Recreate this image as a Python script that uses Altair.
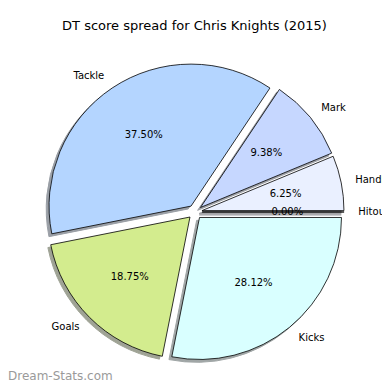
import math
import altair as alt
import pandas as pd

categories = ["Hitouts", "Handball", "Mark", "Tackle", "Goals", "Kicks"]
shares = [0.0, 6.25, 9.375, 37.5, 18.75, 28.125]
pct_labels = ["0.00%", "6.25%", "9.38%", "37.50%", "18.75%", "28.12%"]
colors = ["#dde6ff", "#eaf0ff", "#c6d7ff", "#b4d5ff", "#d3ec8e", "#d9ffff"]
title_text = "DT score spread for Chris Knights (2015)"
watermark = "Dream-Stats.com"

EXPLODE = 0.05
SHADOW = 0.02
R_PX = 142
W = 374
H = 374

rows = []
cum = 0.0
total = sum(shares)
for cat, s, p, c in zip(categories, shares, pct_labels, colors):
    a1 = cum / total * 2 * math.pi
    cum += s
    a2 = cum / total * 2 * math.pi
    m = (a1 + a2) / 2
    dx, dy = EXPLODE * math.cos(m), EXPLODE * math.sin(m)
    rgb = [int(c[i:i + 2], 16) / 255 for i in (1, 3, 5)]
    sh = "#" + "".join("%02x" % int(round((0.5 + 0.15 * v) * 255)) for v in rgb)
    rows.append({
        "cat": cat, "pct": p,
        "t1": math.pi / 2 - a2, "t2": math.pi / 2 - a1,
        "dx": dx, "dy": dy,
        "sx": dx - SHADOW, "sy": dy - SHADOW,
        "lx": dx + 1.1 * math.cos(m), "ly": dy + 1.1 * math.sin(m),
        "px": dx + 0.6 * math.cos(m), "py": dy + 0.6 * math.sin(m),
        "side": "left" if math.cos(m) > 1e-9 else "right",
        "shadow": sh,
    })
df = pd.DataFrame(rows)

cx, cy = 187.0, 204.0
xscale = alt.Scale(domain=[-cx / R_PX, (W - cx) / R_PX], nice=False, zero=False)
yscale = alt.Scale(domain=[-(H - cy) / R_PX, cy / R_PX], nice=False, zero=False)

base = alt.Chart(df)

shadow = base.mark_arc(radius=R_PX, opacity=1, strokeWidth=1).encode(
    x=alt.X("sx:Q", scale=xscale, axis=None),
    y=alt.Y("sy:Q", scale=yscale, axis=None),
    theta=alt.Theta("t1:Q", scale=None, stack=None),
    theta2="t2:Q",
    fill=alt.Fill("shadow:N", scale=None),
    stroke=alt.Stroke("shadow:N", scale=None),
)

wedges = base.mark_arc(radius=R_PX, stroke="black", strokeWidth=0.8, opacity=1).encode(
    x=alt.X("dx:Q", scale=xscale, axis=None),
    y=alt.Y("dy:Q", scale=yscale, axis=None),
    theta=alt.Theta("t1:Q", scale=None, stack=None),
    theta2="t2:Q",
    fill=alt.Fill("cat:N", scale=alt.Scale(domain=categories, range=colors), legend=None),
)

def label_layer(side):
    return base.transform_filter(alt.datum.side == side).mark_text(
        align=side, baseline="middle", font="DejaVu Sans", fontSize=10, color="black"
    ).encode(
        x=alt.X("lx:Q", scale=xscale, axis=None),
        y=alt.Y("ly:Q", scale=yscale, axis=None),
        text="cat:N",
    )

pcts = base.mark_text(
    align="center", baseline="middle", font="DejaVu Sans", fontSize=10, color="black"
).encode(
    x=alt.X("px:Q", scale=xscale, axis=None),
    y=alt.Y("py:Q", scale=yscale, axis=None),
    text="pct:N",
)

title = alt.Chart(pd.DataFrame({"t": [title_text]})).mark_text(
    align="center", baseline="middle", font="DejaVu Sans", fontSize=13, color="black"
).encode(x=alt.value(186.5), y=alt.value(18), text="t:N")

wm = alt.Chart(pd.DataFrame({"t": [watermark]})).mark_text(
    align="left", baseline="middle", font="DejaVu Sans", fontSize=12, color="#9a9a9a"
).encode(x=alt.value(0), y=alt.value(368), text="t:N")

chart = alt.layer(
    shadow, wedges, label_layer("left"), label_layer("right"), pcts, title, wm
).properties(
    width=W, height=H, autosize=alt.AutoSizeParams(type="none"), padding=0
).configure_view(stroke=None)

chart.save("out.html", embed_options={"renderer": "svg", "actions": False})
